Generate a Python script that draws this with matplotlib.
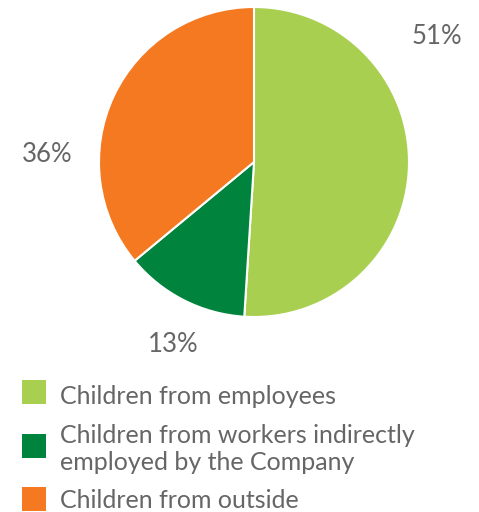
import matplotlib
matplotlib.use("Agg")
import matplotlib.pyplot as plt
from matplotlib.patches import Rectangle

categories = [
    "Children from employees",
    "Children from workers indirectly\nemployed by the Company",
    "Children from outside",
]
shares = [51, 13, 36]
colors = ["#a8cf50", "#00833d", "#f47920"]
text_color = "#666666"

W, H = 479, 512
fig = plt.figure(figsize=(W / 100, H / 100), dpi=100)
ax = fig.add_axes([0, 0, 1, 1])
ax.set_xlim(0, W)
ax.set_ylim(0, H)
ax.axis("off")

def y(px):
    return H - px

ax.pie(shares, colors=colors, startangle=90, counterclock=False,
       center=(254, y(162)), radius=155,
       wedgeprops=dict(edgecolor="white", linewidth=1.5))
ax.set_xlim(0, W)
ax.set_ylim(0, H)
ax.set_aspect("auto")

font = dict(family=["Lato", "DejaVu Sans"], color=text_color)

label_pos = [(437, 37), (173, 345), (47, 155)]
for v, (lx, ly) in zip(shares, label_pos):
    ax.text(lx, y(ly), f"{v}%", ha="center", va="center", fontsize=18.5, **font)

# legend
square_tops = [380, 434, 487]
text_baselines = [404, 443, 508]
for c, lab, st, tb in zip(colors, categories, square_tops, text_baselines):
    ax.add_patch(Rectangle((22, y(st + 24)), 24, 24, color=c, lw=0))
    for i, line in enumerate(lab.split("\n")):
        ax.text(60, y(tb + 27 * i), line, ha="left", va="baseline",
                fontsize=18, **font)

fig.savefig("out.png", dpi=100)
